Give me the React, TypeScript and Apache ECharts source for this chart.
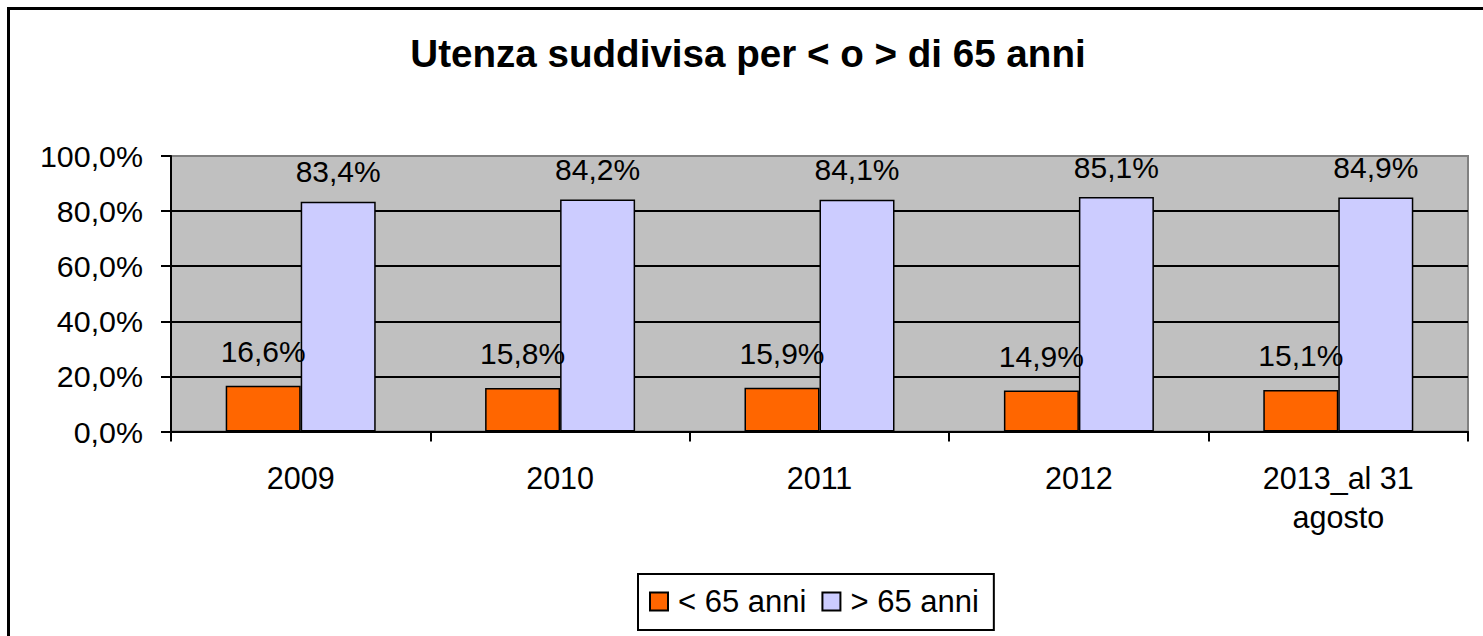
import React, { useEffect, useRef } from "react";
import * as echarts from "echarts";

const categories = ["2009", "2010", "2011", "2012", "2013_al 31\nagosto"];
const under65 = [16.6, 15.8, 15.9, 14.9, 15.1];
const over65 = [83.4, 84.2, 84.1, 85.1, 84.9];
const seriesNames = ["< 65 anni", "> 65 anni"];
const titleText = "Utenza suddivisa per < o > di 65 anni";

const FONT = "Arial, 'Liberation Sans', sans-serif";
const fmt = (v: number) => v.toFixed(1).replace(".", ",") + "%";

export default function App() {
  const ref = useRef<HTMLDivElement>(null);
  useEffect(() => {
    if (!ref.current) return;
    const chart = echarts.init(ref.current, null, { renderer: "svg" });
    chart.setOption({
      animation: false,
      backgroundColor: "#ffffff",
      title: {
        text: titleText,
        left: 743,
        textAlign: "center",
        top: 29,
        textStyle: {
          fontFamily: FONT,
          fontWeight: "bold",
          fontSize: 38.6,
          lineHeight: 38,
          color: "#000",
        },
      },
      graphic: [
        {
          type: "rect",
          shape: { x: 8.5, y: 8.5, width: 1500, height: 700 },
          style: { fill: "none", stroke: "#000", lineWidth: 3 },
          silent: true,
          z: 100,
        },
      ],
      legend: {
        left: 638,
        top: 574,
        orient: "horizontal",
        borderColor: "#000",
        borderWidth: 2,
        padding: [12, 15, 13, 11],
        itemGap: 15,
        itemWidth: 18,
        itemHeight: 18,
        icon: "rect",
        textStyle: {
          fontFamily: FONT,
          fontSize: 31,
          color: "#000",
          padding: [0, 0, 0, 5],
        },
        data: seriesNames,
      },
      grid: {
        left: 171,
        right: 15,
        top: 156,
        bottom: 204.5,
        show: true,
        backgroundColor: "#C0C0C0",
        borderColor: "#808080",
        borderWidth: 2,
      },
      xAxis: {
        type: "category",
        data: categories,
        axisLine: { show: true, lineStyle: { color: "#000", width: 2 } },
        axisTick: { show: true, length: 10, lineStyle: { color: "#000", width: 2 } },
        axisLabel: {
          fontFamily: FONT,
          fontSize: 30.5,
          lineHeight: 39,
          color: "#000",
          margin: 27,
          interval: 0,
        },
      },
      yAxis: {
        type: "value",
        min: 0,
        max: 100,
        interval: 20,
        axisLine: { show: true, lineStyle: { color: "#000", width: 2 } },
        axisTick: { show: true, length: 10, lineStyle: { color: "#000", width: 2 } },
        axisLabel: {
          fontFamily: FONT,
          fontSize: 30.4,
          color: "#000",
          margin: 28,
          formatter: (v: number) => fmt(v),
        },
        splitLine: {
          show: true,
          showMinLine: false,
          showMaxLine: false,
          lineStyle: { color: "#000", width: 2 },
        },
      },
      series: [
        {
          name: seriesNames[0],
          type: "bar",
          data: under65,
          barWidth: 75,
          barGap: "0%",
          itemStyle: { color: "#FF6600", borderColor: "#000", borderWidth: 1.5 },
          label: {
            show: true,
            position: "top",
            distance: 19,
            fontFamily: FONT,
            fontSize: 30,
            lineHeight: 30,
            color: "#000",
            formatter: (p: any) => fmt(p.value),
          },
        },
        {
          name: seriesNames[1],
          type: "bar",
          data: over65,
          barWidth: 75,
          barGap: "0%",
          itemStyle: { color: "#CCCCFF", borderColor: "#000", borderWidth: 1.5 },
          label: {
            show: true,
            position: "top",
            distance: 15,
            fontFamily: FONT,
            fontSize: 30,
            lineHeight: 30,
            color: "#000",
            formatter: (p: any) => fmt(p.value),
          },
        },
      ],
    });
    return () => chart.dispose();
  }, []);
  return (
    <div
      ref={ref}
      style={{ position: "fixed", left: 0, top: 0, width: 1483, height: 636 }}
    />
  );
}
